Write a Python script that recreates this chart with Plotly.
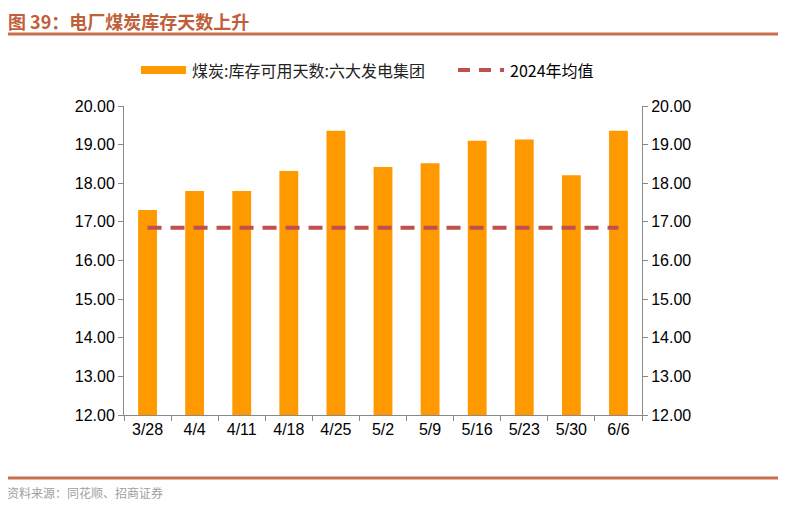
import plotly.graph_objects as go

categories = ["3/28", "4/4", "4/11", "4/18", "4/25", "5/2", "5/9", "5/16", "5/23", "5/30", "6/6"]
days_values = [17.31, 17.80, 17.80, 18.32, 19.36, 18.42, 18.52, 19.10, 19.13, 18.21, 19.36]
avg_2024 = [16.85] * len(categories)
y_ticks = [12, 13, 14, 15, 16, 17, 18, 19, 20]
bar_name = "煤炭:库存可用天数:六大发电集团"
line_name = "2024年均值"

OFF = 8  # page body margin
W, H = 786, 520
L, R, T, B = 124 - OFF, 144 + OFF, 106 - OFF, 105 + OFF
PW, PH = W - L - R, H - T - B

def px(x):
    return (x - OFF - L) / PW

def py(y):
    return (H - B - (y - OFF)) / PH

CJK = "Noto Sans CJK SC"
NUM = "Arial, Liberation Sans, sans-serif"
axis_col = "#898989"

fig = go.Figure()
fig.add_trace(go.Bar(x=categories, y=days_values, name=bar_name,
                     marker=dict(color="#FF9900", line=dict(width=0)),
                     showlegend=False))
fig.add_trace(go.Scatter(x=categories, y=avg_2024, name=line_name, mode="lines",
                         line=dict(color="#C0504D", width=4, dash="14px,9px"),
                         yaxis="y2", showlegend=False))

tick_text = ["%.2f" % v for v in y_ticks]
yax = dict(range=[12, 20], tickvals=y_ticks, ticktext=tick_text, showgrid=False,
           zeroline=False, showline=True, linecolor=axis_col, linewidth=1,
           ticks="outside", ticklen=5, tickcolor=axis_col,
           tickfont=dict(family=NUM, size=16, color="#000000"))

fig.update_layout(
    width=W, height=H,
    margin=dict(l=L, r=R, t=T, b=B, autoexpand=False),
    paper_bgcolor="white", plot_bgcolor="white",
    bargap=0.6,
    xaxis=dict(type="category", showgrid=False, showline=True, linecolor=axis_col,
               linewidth=1, ticks="outside", ticklen=5, tickcolor=axis_col,
               tickson="boundaries", tickfont=dict(family=NUM, size=16, color="#000000")),
    yaxis=dict(**yax, side="left"),
    yaxis2=dict(**yax, side="right", overlaying="y"),
    showlegend=False,
)

shapes = []
shapes.append(dict(type="line", xref="paper", yref="paper", x0=px(5), x1=px(779),
                   y0=py(34), y1=py(34), line=dict(color="#C8704F", width=3)))
shapes.append(dict(type="line", xref="paper", yref="paper", x0=px(5), x1=px(779),
                   y0=py(478), y1=py(478), line=dict(color="#C8704F", width=3)))
shapes.append(dict(type="rect", xref="paper", yref="paper", x0=px(141), x1=px(186),
                   y0=py(74), y1=py(66), fillcolor="#FF9900", line=dict(width=0)))
shapes.append(dict(type="line", xref="paper", yref="paper", x0=px(458), x1=px(504),
                   y0=py(70), y1=py(70),
                   line=dict(color="#C0504D", width=4, dash="12px,9px")))
fig.update_layout(shapes=shapes)

ann = []
ann.append(dict(text="<b>图 39：电厂煤炭库存天数上升</b>", xref="paper", yref="paper",
                x=px(7), y=py(21), xanchor="left", yanchor="middle", showarrow=False,
                borderpad=0, font=dict(family=CJK, size=18, color="#C0603A")))
ann.append(dict(text=bar_name, xref="paper", yref="paper", x=px(190), y=py(70),
                xanchor="left", yanchor="middle", showarrow=False,
                font=dict(family=CJK, size=16, color="#222222")))
ann.append(dict(text=line_name, xref="paper", yref="paper", x=px(508), y=py(70),
                xanchor="left", yanchor="middle", showarrow=False,
                font=dict(family=CJK, size=16, color="#000000")))
ann.append(dict(text="资料来源：同花顺、招商证券", xref="paper", yref="paper",
                x=px(5), y=py(493), xanchor="left", yanchor="middle", showarrow=False,
                font=dict(family=CJK, size=12, color="#A0A0A0")))
fig.update_layout(annotations=ann)

fig.write_html("out.html")
